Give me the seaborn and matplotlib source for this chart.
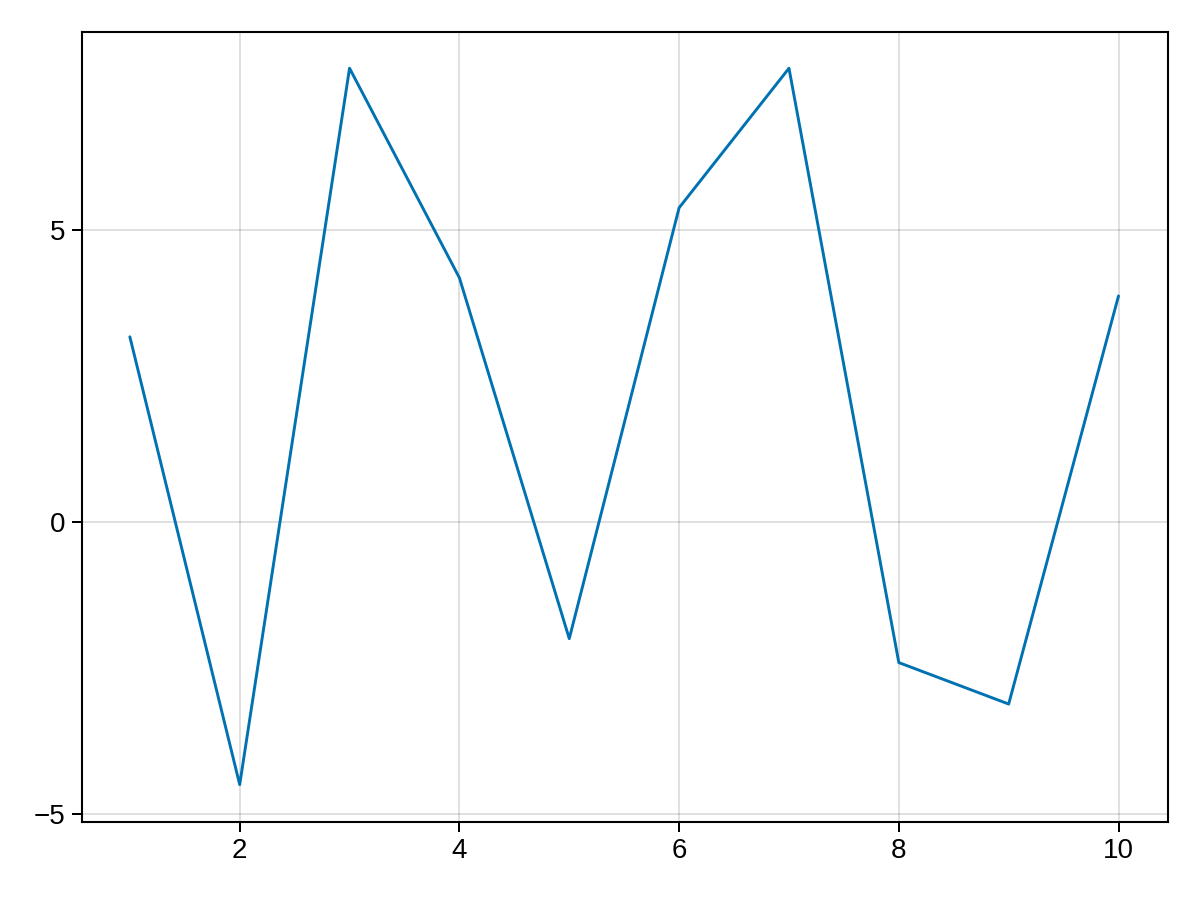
import numpy as np
import pandas as pd
import seaborn as sns
import matplotlib.pyplot as plt

# values
x_vals = [1, 2, 3, 4, 5, 6, 7, 8, 9, 10]
y_vals = [3.17, -4.50, 7.77, 4.18, -2.00, 5.38, 7.77, -2.41, -3.12, 3.87]
x_ticks = [2, 4, 6, 8, 10]
y_ticks = [-5, 0, 5]

df = pd.DataFrame({"x": x_vals, "y": y_vals})

sns.set_theme(style="white")
plt.rcParams['font.family'] = ['Liberation Sans', 'DejaVu Sans']

fig = plt.figure(figsize=(12, 9), dpi=100)
ax = fig.add_axes([0.0683, 0.0867, 0.905, 0.8777])

sns.lineplot(data=df, x="x", y="y", color="#0072B2", linewidth=2.1, ax=ax)

ax.set_xlim(0.564, 10.45)
ax.set_ylim(-5.14, 8.39)
ax.set_xticks(x_ticks)
ax.set_yticks(y_ticks)
ax.set_yticklabels(["\u22125", "0", "5"])
ax.set_xlabel("")
ax.set_ylabel("")
ax.grid(True, color="#000000", alpha=0.12, linewidth=1.44)

for s in ax.spines.values():
    s.set_color("black")
    s.set_linewidth(1.5)
ax.tick_params(direction="out", length=7.2, width=1.44, color="black",
               labelsize=20, labelcolor="black",
               bottom=True, left=True)
ax.tick_params(axis="x", pad=4)
ax.tick_params(axis="y", pad=5)

fig.savefig("out.png", dpi=100)
